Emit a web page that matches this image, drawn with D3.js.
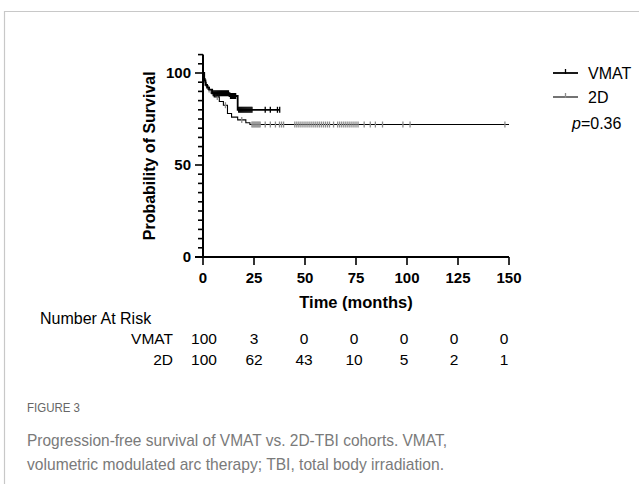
<!DOCTYPE html>
<html>
<head>
<meta charset="utf-8">
<script src="https://cdn.jsdelivr.net/npm/d3@7"></script>
<style>
  body { margin: 0; background: #fff; }
  svg { display: block; }
  text { font-family: "Liberation Sans", Arial, sans-serif; }
</style>
</head>
<body>
<svg id="chart" width="639" height="484"></svg>
<script>
// Kaplan-Meier step data (time in months, survival in %)
const vmatTimes = [0, 0.6, 1.2, 2, 3, 4.5, 13, 17, 37.6];
const vmatSurv = [100, 96, 93.5, 92, 91, 89, 87.5, 80, 80];
const vmatCensor = [5, 5.5, 6, 6.5, 7, 7.5, 8, 8.5, 9, 9.5, 10, 10.5, 11, 11.5, 12, 12.5,
  13.5, 14, 14.5, 15, 15.5, 16, 17.5, 18, 18.5, 19, 19.5, 20, 20.5, 21, 21.5, 22, 22.5,
  23, 23.5, 24, 30.5, 33, 36.5, 37.6];

const twoDTimes = [0, 0.5, 1, 1.5, 2.5, 4, 5.5, 8, 10, 12, 14, 17, 21, 23, 150];
const twoDSurv = [100, 97, 95, 93, 91, 89, 87, 84.5, 82.5, 78, 76, 74.5, 73, 72, 72];
const twoDCensor = [3, 7, 11, 19, 24, 24.5, 25, 25.5, 26, 26.5, 27, 27.5, 28, 30.5, 33,
  35.5, 37.5, 38.5, 39.5, 45, 46, 47, 48, 49, 50, 51, 52, 53, 54, 55, 56, 57, 58, 59, 60,
  61, 62, 64, 66, 67, 68, 69, 70, 71, 72, 73, 74, 75, 76, 79, 82, 84.5, 88, 98, 101.5, 148];

const xTicks = [0, 25, 50, 75, 100, 125, 150];
const riskGroups = ["VMAT", "2D"];
const riskVmat = [100, 3, 0, 0, 0, 0, 0];
const riskTwoD = [100, 62, 43, 10, 5, 2, 1];

const svg = d3.select("#chart");

// panel frame (top and left rules)
svg.append("path")
  .attr("d", "M4.5,484V11.5H639")
  .attr("fill", "none")
  .attr("stroke", "#c8c8c8")
  .attr("stroke-width", 1.2);

const x = d3.scaleLinear().domain([0, 150]).range([203, 509]);
const y = d3.scaleLinear().domain([0, 110]).range([257, 54.6]);

// y axis
const yAxis = svg.append("g").attr("transform", `translate(${x(0)},0)`);
yAxis.append("line")
  .attr("y1", y(0)).attr("y2", y(110))
  .attr("stroke", "#000").attr("stroke-width", 2);
yAxis.selectAll("line.tick")
  .data(d3.range(0, 111, 5))
  .join("line")
  .attr("class", "tick")
  .attr("x1", (d) => (d % 50 === 0 ? -8 : -5))
  .attr("x2", 0)
  .attr("y1", (d) => y(d)).attr("y2", (d) => y(d))
  .attr("stroke", "#000").attr("stroke-width", 1.6);
yAxis.selectAll("text")
  .data([0, 50, 100])
  .join("text")
  .attr("x", -12)
  .attr("y", (d) => y(d))
  .attr("dy", "0.36em")
  .attr("text-anchor", "end")
  .attr("font-size", 15)
  .attr("font-weight", "bold")
  .text((d) => d);

// x axis
const xAxis = svg.append("g").attr("transform", `translate(0,${y(0)})`);
xAxis.append("line")
  .attr("x1", x(0) - 8).attr("x2", x(150))
  .attr("stroke", "#000").attr("stroke-width", 2);
xAxis.selectAll("line.tick")
  .data(xTicks)
  .join("line")
  .attr("class", "tick")
  .attr("x1", (d) => x(d)).attr("x2", (d) => x(d))
  .attr("y1", 0).attr("y2", 8)
  .attr("stroke", "#000").attr("stroke-width", 1.6);
xAxis.selectAll("text")
  .data(xTicks)
  .join("text")
  .attr("x", (d) => x(d))
  .attr("y", 21)
  .attr("dy", "0.36em")
  .attr("text-anchor", "middle")
  .attr("font-size", 15)
  .attr("font-weight", "bold")
  .text((d) => d);

svg.append("text")
  .attr("x", x(75))
  .attr("y", 302)
  .attr("dy", "0.36em")
  .attr("text-anchor", "middle")
  .attr("font-size", 16.5)
  .attr("font-weight", "bold")
  .text("Time (months)");

svg.append("text")
  .attr("transform", `translate(149,${(y(0) + y(110)) / 2}) rotate(-90)`)
  .attr("dy", "0.36em")
  .attr("text-anchor", "middle")
  .attr("font-size", 16)
  .attr("font-weight", "bold")
  .text("Probability of Survival");

// curves
const line = d3.line()
  .curve(d3.curveStepAfter)
  .x((d) => x(d[0]))
  .y((d) => y(d[1]));

function survAt(times, surv, t) {
  const i = d3.bisectRight(times, t) - 1;
  return surv[Math.max(0, i)];
}

function drawCurve(times, surv, censor, width, markColor) {
  svg.append("path")
    .datum(d3.zip(times, surv))
    .attr("d", line)
    .attr("fill", "none")
    .attr("stroke", "#000")
    .attr("stroke-width", width);
  svg.append("g")
    .selectAll("line")
    .data(censor)
    .join("line")
    .attr("x1", (d) => x(d)).attr("x2", (d) => x(d))
    .attr("y1", (d) => y(survAt(times, surv, d)) - 3)
    .attr("y2", (d) => y(survAt(times, surv, d)) + 3)
    .attr("stroke", markColor)
    .attr("stroke-width", 1.3);
}

drawCurve(twoDTimes, twoDSurv, twoDCensor, 1.1, "#8c8c8c");
drawCurve(vmatTimes, vmatSurv, vmatCensor, 1.8, "#000");

// legend
const legend = svg.append("g");
const legendItems = [
  { name: "VMAT", y: 73, width: 1.8, mark: "#000" },
  { name: "2D", y: 97, width: 1.1, mark: "#8c8c8c" },
];
legendItems.forEach((it) => {
  legend.append("line")
    .attr("x1", 553).attr("x2", 578)
    .attr("y1", it.y).attr("y2", it.y)
    .attr("stroke", "#000").attr("stroke-width", it.width);
  legend.append("line")
    .attr("x1", 565.5).attr("x2", 565.5)
    .attr("y1", it.y - 4).attr("y2", it.y + 1)
    .attr("stroke", it.mark).attr("stroke-width", 1.3);
  legend.append("text")
    .attr("x", 588).attr("y", it.y)
    .attr("dy", "0.36em")
    .attr("font-size", 16)
    .text(it.name);
});
const pText = legend.append("text")
  .attr("x", 572).attr("y", 123)
  .attr("dy", "0.36em")
  .attr("font-size", 16);
pText.append("tspan").attr("font-style", "italic").text("p");
pText.append("tspan").text("=0.36");

// number at risk table
const riskX = d3.scaleLinear().domain([0, 150]).range([204, 504]);
svg.append("text")
  .attr("x", 40).attr("y", 318)
  .attr("dy", "0.36em")
  .attr("font-size", 16)
  .text("Number At Risk");

[riskVmat, riskTwoD].forEach((row, i) => {
  const ry = 338 + i * 21;
  svg.append("text")
    .attr("x", 173).attr("y", ry)
    .attr("dy", "0.36em")
    .attr("text-anchor", "end")
    .attr("font-size", 15.5)
    .text(riskGroups[i]);
  svg.append("g")
    .selectAll("text")
    .data(row)
    .join("text")
    .attr("x", (d, j) => riskX(xTicks[j]))
    .attr("y", ry)
    .attr("dy", "0.36em")
    .attr("text-anchor", "middle")
    .attr("font-size", 15.5)
    .text((d) => d);
});

// caption
svg.append("text")
  .attr("x", 27).attr("y", 407)
  .attr("dy", "0.36em")
  .attr("font-family", "Lato, 'Open Sans', sans-serif")
  .attr("font-size", 13)
  .attr("textLength", 53)
  .attr("lengthAdjust", "spacingAndGlyphs")
  .attr("fill", "#666")
  .text("FIGURE 3");
const capLines = [
  "Progression-free survival of VMAT vs. 2D-TBI cohorts. VMAT,",
  "volumetric modulated arc therapy; TBI, total body irradiation.",
];
const capWidths = [420, 417];
svg.append("g")
  .selectAll("text")
  .data(capLines)
  .join("text")
  .attr("x", 27)
  .attr("y", (d, i) => 440 + i * 23.5)
  .attr("dy", "0.36em")
  .attr("font-family", "Lato, 'Open Sans', sans-serif")
  .attr("font-weight", 300)
  .attr("font-size", 17)
  .attr("textLength", (d, i) => capWidths[i])
  .attr("lengthAdjust", "spacingAndGlyphs")
  .attr("fill", "#7a7a7a")
  .text((d) => d);
</script>
</body>
</html>
